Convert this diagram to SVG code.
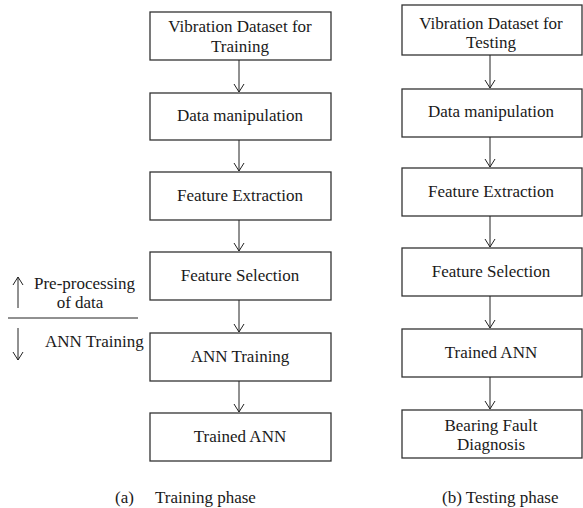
<svg xmlns="http://www.w3.org/2000/svg" width="583" height="508" viewBox="0 0 583 508" font-family="'Liberation Serif', 'DejaVu Serif', serif">
<defs>
<marker id="v" markerWidth="12" markerHeight="12" refX="10" refY="6" orient="auto" markerUnits="userSpaceOnUse" viewBox="0 0 12 12">
<path d="M2,1 L10,6 L2,11" fill="none" stroke="#222" stroke-width="1"/>
</marker>
</defs>
<style>
rect{fill:#fff;stroke:#333;stroke-width:1.3}
text{font-family:'Liberation Serif','DejaVu Serif',serif;font-size:17px;fill:#1a1a1a;text-anchor:middle}
.c line{stroke:#222;stroke-width:1;marker-end:url(#v)}
.l{text-anchor:start}
</style>
<rect x="0" y="0" width="583" height="508" style="fill:#fff;stroke:none"/>
<g id="a1"><rect x="150" y="12" width="181" height="48"/><text x="240" y="32">Vibration Dataset for</text><text x="240" y="52">Training</text></g>
<g id="a2"><rect x="150" y="93" width="181" height="47"/><text x="240" y="121">Data manipulation</text></g>
<g id="a3"><rect x="150" y="172" width="181" height="48"/><text x="240" y="201">Feature Extraction</text></g>
<g id="a4"><rect x="150" y="252" width="181" height="48"/><text x="240" y="281">Feature Selection</text></g>
<g id="a5"><rect x="150" y="333" width="181" height="48"/><text x="240" y="362">ANN Training</text></g>
<g id="a6"><rect x="150" y="413" width="181" height="48"/><text x="240" y="442">Trained ANN</text></g>
<g id="b1"><rect x="402" y="5" width="180" height="50"/><text x="491" y="29">Vibration Dataset for</text><text x="491" y="48">Testing</text></g>
<g id="b2"><rect x="402" y="89" width="180" height="48"/><text x="491" y="117">Data manipulation</text></g>
<g id="b3"><rect x="402" y="168" width="180" height="48"/><text x="491" y="197">Feature Extraction</text></g>
<g id="b4"><rect x="402" y="248" width="180" height="48"/><text x="491" y="277">Feature Selection</text></g>
<g id="b5"><rect x="402" y="329" width="180" height="48"/><text x="491" y="358">Trained ANN</text></g>
<g id="b6"><rect x="402" y="410" width="180" height="48"/><text x="491" y="431">Bearing Fault</text><text x="491" y="450">Diagnosis</text></g>
<g class="c">
<line x1="239" y1="60" x2="239" y2="92"/>
<line x1="239" y1="140" x2="239" y2="171"/>
<line x1="239" y1="220" x2="239" y2="251"/>
<line x1="239" y1="300" x2="239" y2="332"/>
<line x1="239" y1="381" x2="239" y2="412"/>
<line x1="490" y1="55" x2="490" y2="88"/>
<line x1="490" y1="137" x2="490" y2="167"/>
<line x1="490" y1="216" x2="490" y2="247"/>
<line x1="490" y1="296" x2="490" y2="328"/>
<line x1="490" y1="377" x2="490" y2="409"/>
<line x1="18" y1="308" x2="18" y2="277"/>
<line x1="18" y1="328" x2="18" y2="360"/>
<line x1="8" y1="318" x2="138" y2="318" style="marker-end:none"/>
</g>
<g id="legend">
<text class="l" x="34" y="289">Pre-processing</text>
<text x="80" y="308">of data</text>
<text class="l" x="45" y="347">ANN Training</text>
</g>
<g id="captions">
<text class="l" x="115" y="503">(a)</text>
<text class="l" x="155" y="503">Training phase</text>
<text class="l" x="442" y="503">(b) Testing phase</text>
</g>
</svg>
